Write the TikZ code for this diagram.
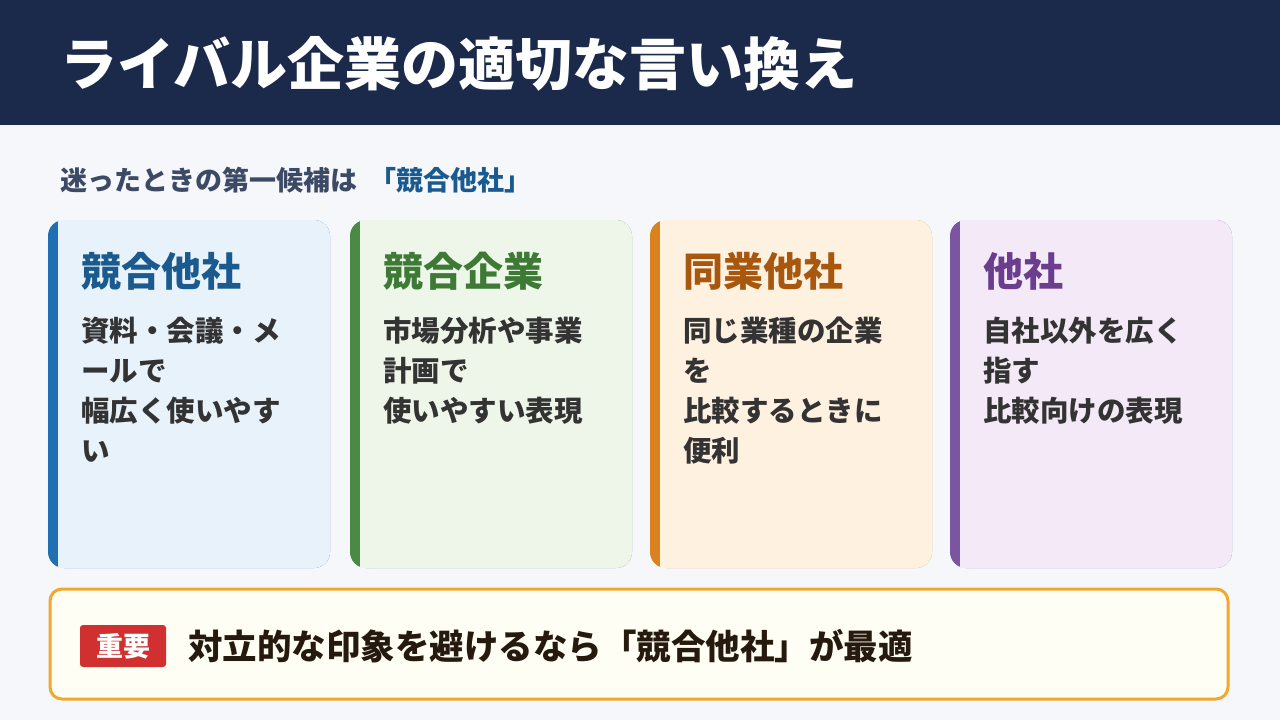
\documentclass[tikz,border=0pt]{standalone}
\usepackage{fontspec}
\setmainfont{Noto Sans CJK JP}
\begin{document}
\begin{tikzpicture}[x=1pt,y=-1pt,
  txt/.style={anchor=west,inner sep=0pt,font=#1},
  body/.style={anchor=north west,inner sep=0pt,align=left,text=black!80,font=\fontsize{28.5}{40}\selectfont\bfseries}]
\definecolor{navy}{HTML}{1B2A4A}
\definecolor{bg}{HTML}{F5F7FB}
\definecolor{sb}{HTML}{1F6FB2}\definecolor{fb}{HTML}{E8F2FB}\definecolor{tb}{HTML}{1A5A8F}
\definecolor{sg}{HTML}{4A8A45}\definecolor{fg}{HTML}{EEF6EA}\definecolor{tg}{HTML}{3E7A36}
\definecolor{so}{HTML}{D9821E}\definecolor{fo}{HTML}{FFF1E0}\definecolor{to}{HTML}{A8580E}
\definecolor{sp}{HTML}{7B55A0}\definecolor{fp}{HTML}{F4EAF7}\definecolor{tp}{HTML}{6A3D8F}
\definecolor{gold}{HTML}{F0A830}
\definecolor{redt}{HTML}{D03030}
\useasboundingbox (0,0) rectangle (1280,720);
\fill[bg] (0,0) rectangle (1280,720);
\fill[navy] (0,0) rectangle (1280,125);
\node[txt=\fontsize{57}{64}\selectfont\bfseries,text=white] (title) at (60,64) {ライバル企業の適切な言い換え};
\node[txt=\fontsize{27}{32}\selectfont\bfseries,text=navy!85] (sub) at (60,180) {迷ったときの第一候補は\ \ {\color{tb}「競合他社」}};
\foreach \x/\s/\f/\t/\h/\b [count=\i] in {
 48/sb/fb/tb/競合他社/{資料・会議・メ\\ールで\\幅広く使いやす\\い},
 350/sg/fg/tg/競合企業/{市場分析や事業\\計画で\\使いやすい表現},
 650/so/fo/to/同業他社/{同じ業種の企業\\を\\比較するときに\\便利},
 950/sp/fp/tp/他社/{自社以外を広く\\指す\\比較向けの表現}}{
  \fill[\s,rounded corners=16pt] (\x,220) rectangle (\x+282,568);
  \fill[\f,rounded corners=16pt] (\x+10,220) rectangle (\x+282,568);
  \fill[\f] (\x+10,220) rectangle (\x+30,568);
  \node[txt=\fontsize{40}{46}\selectfont\bfseries,text=\t] (h\i) at (\x+33,271) {\h};
  \node[body] (b\i) at (\x+33,317) {\b};
}
\draw[gold,line width=3pt,fill=white!70!yellow!15,rounded corners=12pt] (50,589) rectangle (1228,699);
\node[fill=redt,text=white,rounded corners=3pt,minimum width=86pt,minimum height=42pt,inner sep=0pt,font=\fontsize{27}{30}\selectfont\bfseries] (tag) at (123,646) {重要};
\node[txt=\fontsize{34.5}{40}\selectfont\bfseries,text=black!80!brown] (msg) at (188,646) {対立的な印象を避けるなら「競合他社」が最適};
\end{tikzpicture}
\end{document}
